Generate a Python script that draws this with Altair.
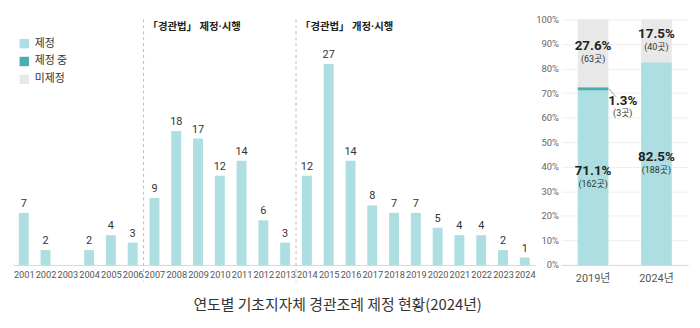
import altair as alt
import pandas as pd

FONT = "Noto Sans CJK KR"
NUMFONT = "Roboto, 'Noto Sans CJK KR'"

# ---- data ----
years = list(range(2001, 2025))
counts = [7, 2, 0, 2, 4, 3, 9, 18, 17, 12, 14, 6, 3, 12, 27, 14, 8, 7, 7, 5, 4, 4, 2, 1]

event_labels = ["「경관법」 제정·시행", "「경관법」 개정·시행"]
event_years = [2007, 2014]

status = ["제정", "제정 중", "미제정"]
status_colors = ["#acdee2", "#4aaeb1", "#e8e8e8"]
periods = ["2019년", "2024년"]
pct_2019 = [71.1, 1.3, 27.6]
cnt_2019 = [162, 3, 63]
pct_2024 = [82.5, 0.0, 17.5]
cnt_2024 = [188, 0, 40]
pct_ticks = [0, 0.1, 0.2, 0.3, 0.4, 0.5, 0.6, 0.7, 0.8, 0.9, 1.0]

title_text = "연도별 기초지자체 경관조례 제정 현황(2024년)"

# ---- tables ----
df_years = pd.DataFrame({"year": years, "count": counts})
df_events = pd.DataFrame({"label": event_labels, "year": event_years})

rows = []
for p, pcts, cnts in [(periods[0], pct_2019, cnt_2019), (periods[1], pct_2024, cnt_2024)]:
    for i, (s, v, c) in enumerate(zip(status, pcts, cnts)):
        rows.append({"period": p, "status": s, "order": i, "pct": v / 100.0,
                     "cnt": c, "pct_label": f"{v:.1f}%", "cnt_label": f"({c}곳)"})
df_stack = pd.DataFrame(rows)
df_stack["end"] = df_stack.groupby("period")["pct"].cumsum()
df_stack["start"] = df_stack["end"] - df_stack["pct"]
df_stack["mid"] = (df_stack["start"] + df_stack["end"]) / 2

# ---- left chart ----
x_scale_l = alt.Scale(domain=[2000.5, 2024.5], nice=False, zero=False, padding=0)
x_axis_l = alt.Axis(values=years, format="d", title=None, grid=False, ticks=False,
                    labelFontSize=9.3, labelColor="#555", labelFont=NUMFONT,
                    labelPadding=6, domainColor="#d8d8d8", labelFlush=False,
                    labelOverlap=False, tickCount=24)
y_scale_l = alt.Scale(domain=[0, 33], nice=False)

xl = alt.X("year:Q", scale=x_scale_l, axis=x_axis_l)
yl = alt.Y("count:Q", scale=y_scale_l, axis=None)

left_base = alt.Chart(df_years)
bars = left_base.mark_bar(size=10, color=status_colors[0]).encode(x=xl, y=yl)
bar_txt = left_base.transform_filter("datum.count > 0").mark_text(
    dy=-9, fontSize=11, color="#333", font=NUMFONT).encode(x=xl, y=yl, text="count:Q")

ev = alt.Chart(df_events).transform_calculate(pos="datum.year - 0.5")
x_ev = alt.X("pos:Q", scale=x_scale_l, axis=x_axis_l)
ev_rule = ev.mark_rule(strokeDash=[3, 3], color="#bbbbbb", strokeWidth=1).encode(
    x=x_ev, y=alt.value(0), y2=alt.value(265))
ev_txt = ev.mark_text(align="left", baseline="middle", dx=4, fontSize=10.5,
                      fontWeight="bold", color="#222", font=NUMFONT).encode(
    x=x_ev, y=alt.value(8), text="label:N")

left = alt.layer(bars, bar_txt, ev_rule, ev_txt).properties(width=528, height=248)

# ---- right chart ----
color = alt.Color("status:N", scale=alt.Scale(domain=status, range=status_colors),
                  legend=alt.Legend(title=None, orient="none", legendX=6, legendY=19,
                                    symbolType="square", symbolSize=90,
                                    symbolStrokeWidth=0, labelFontSize=11,
                                    labelColor="#333", labelFont=FONT,
                                    rowPadding=6, labelOffset=5))
x_axis_r = alt.Axis(title=None, labelAngle=0, ticks=False, labelFontSize=11,
                    labelColor="#555", labelFont=NUMFONT, labelPadding=8,
                    domainColor="#d8d8d8")
x_scale_r = alt.Scale(domain=periods, paddingInner=0.516, paddingOuter=0.258)
y_axis_r = alt.Axis(title=None, format=".0%", values=pct_ticks, tickCount=11,
                    ticks=False, domain=False, labelFontSize=9.5,
                    labelColor="#666", labelFont=NUMFONT, gridColor="#eeeeee",
                    labelPadding=3, minExtent=19, maxExtent=19)
y_scale_r = alt.Scale(domain=[0, 1], nice=False)

xr = alt.X("period:N", sort=periods, scale=x_scale_r, axis=x_axis_r)
yr = alt.Y("start:Q", scale=y_scale_r, axis=y_axis_r)
ym = alt.Y("mid:Q", scale=y_scale_r, axis=y_axis_r)

rbase = alt.Chart(df_stack)
sbars = rbase.transform_filter("datum.pct > 0").mark_bar().encode(
    x=xr, y=yr, y2="end:Q", color=color, order="order:Q")

big = rbase.transform_filter("datum.pct > 0.05")
pct_txt = big.mark_text(dy=-7, fontSize=13.5, fontWeight="bold", color="#222",
                        font=NUMFONT).encode(x=xr, y=ym, text="pct_label:N")
cnt_txt = big.mark_text(dy=6, fontSize=9, color="#333", font=NUMFONT).encode(
    x=xr, y=ym, text="cnt_label:N")

small = rbase.transform_filter("datum.pct > 0 && datum.pct <= 0.05")
lead = small.mark_rule(color="#888", strokeWidth=0.8, xOffset=16, x2Offset=23,
                       yOffset=0, y2Offset=8).encode(
    x=xr, x2=alt.X2("period:N"), y=ym, y2=alt.Y2("mid:Q"))
s_pct = small.mark_text(dx=30, dy=12, fontSize=13.5, fontWeight="bold", color="#222",
                        font=NUMFONT).encode(x=xr, y=ym, text="pct_label:N")
s_cnt = small.mark_text(dx=30, dy=24, fontSize=9, color="#333", font=NUMFONT).encode(
    x=xr, y=ym, text="cnt_label:N")

right = alt.layer(sbars, pct_txt, cnt_txt, lead, s_pct, s_cnt).properties(
    width=128, height=248)

chart = alt.hconcat(left, right, spacing=0).properties(
    title=alt.TitleParams(title_text, orient="bottom", anchor="middle", dx=-13,
                          offset=14, fontSize=15, fontWeight="normal", color="#333",
                          font=FONT),
    padding={"left": 13, "right": 12, "top": 13, "bottom": 5},
).configure_view(stroke=None).configure_concat(spacing=0)

chart.save("out.html", embed_options={"renderer": "svg", "actions": False})
